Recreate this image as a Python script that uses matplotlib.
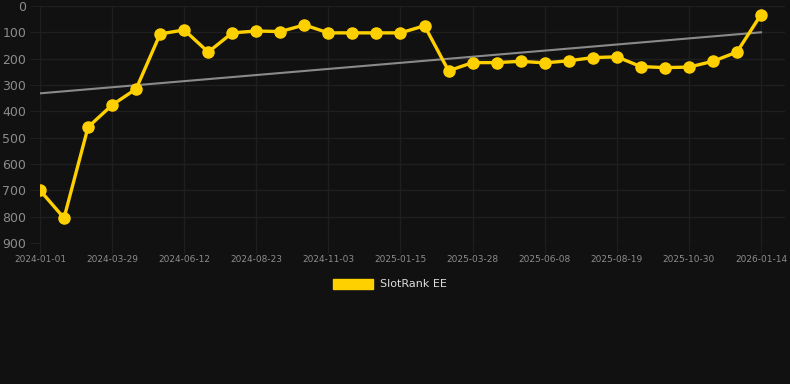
import matplotlib
matplotlib.use("Agg")
import matplotlib.pyplot as plt
from matplotlib.patches import Patch
import numpy as np

dates = ["2024-01-01", "2024-01-30", "2024-02-28", "2024-03-29", "2024-04-23",
         "2024-05-18", "2024-06-12", "2024-07-06", "2024-07-30", "2024-08-23",
         "2024-09-16", "2024-10-10", "2024-11-03", "2024-11-27", "2024-12-21",
         "2025-01-15", "2025-02-08", "2025-03-04", "2025-03-28", "2025-04-21",
         "2025-05-15", "2025-06-08", "2025-07-02", "2025-07-26", "2025-08-19",
         "2025-09-12", "2025-10-06", "2025-10-30", "2025-11-24", "2025-12-19",
         "2026-01-14"]
rank = [700, 805, 460, 376, 315, 106, 91, 175, 102, 95,
        97, 72, 102, 102, 102, 102, 75, 246, 215, 215,
        210, 216, 208, 196, 193, 230, 234, 232, 210, 175,
        33]
y_ticks = [0, 100, 200, 300, 400, 500, 600, 700, 800, 900]

BG = "#111111"
GRID = "#1f1f1f"
GOLD = "#ffd000"


def main():
    fig = plt.figure(figsize=(7.9, 3.84), dpi=100, facecolor=BG)
    ax = fig.add_axes([40 / 790, 141 / 384, 745 / 790, 237 / 384])
    ax.set_facecolor(BG)

    x = np.arange(len(rank))
    # trend line (least squares)
    k, b = np.polyfit(x, rank, 1)
    ax.plot(x, k * x + b, color="#8a8a8a", linewidth=1.5, zorder=2)

    ax.plot(x, rank, color=GOLD, linewidth=2.4, marker="o", markersize=8,
            zorder=3)

    ax.set_ylim(900, 0)
    ax.set_xlim(0, 31.0)
    ax.set_yticks(y_ticks)
    ax.set_xticks(x[::3])
    ax.set_xticklabels(dates[::3])

    ax.grid(True, color=GRID, linewidth=1)
    for s in ax.spines.values():
        s.set_visible(False)
    ax.tick_params(axis="y", colors=GRID, labelcolor="#8c8c8c", labelsize=9,
                   length=7, pad=3)
    ax.tick_params(axis="x", colors=GRID, labelcolor="#8c8c8c", labelsize=6.5,
                   length=7, pad=2)

    fig.legend(handles=[Patch(color=GOLD, label="SlotRank EE")],
               loc="center", bbox_to_anchor=(390 / 790, 1 - 284 / 384),
               frameon=False, fontsize=8, labelcolor="#dddddd",
               handlelength=3.6, handleheight=1.0, handletextpad=0.6)

    fig.savefig("out.png", dpi=100, facecolor=BG)


if __name__ == "__main__":
    main()
